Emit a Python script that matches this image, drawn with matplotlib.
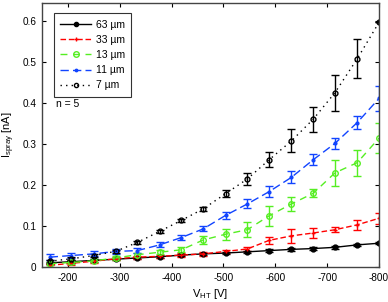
import matplotlib
matplotlib.use("Agg")
import matplotlib.pyplot as plt
from matplotlib.ticker import FixedLocator, FuncFormatter
from matplotlib.lines import Line2D

plt.rcParams['font.family'] = ['Liberation Sans', 'DejaVu Sans']
plt.rcParams['axes.unicode_minus'] = False

voltage = [-165, -207, -250, -292, -334, -377, -419, -461, -504, -546, -588, -631, -673, -715, -758, -800]

i_63 = [0.010, 0.013, 0.016, 0.019, 0.022, 0.025, 0.029, 0.032, 0.034, 0.037, 0.040, 0.043, 0.045, 0.048, 0.054, 0.058]
e_63 = [0.003, 0.003, 0.003, 0.003, 0.003, 0.003, 0.003, 0.003, 0.003, 0.003, 0.003, 0.003, 0.003, 0.003, 0.003, 0.003]

i_33 = [0.004, 0.009, 0.014, 0.020, 0.024, 0.026, 0.029, 0.032, 0.038, 0.044, 0.065, 0.076, 0.083, 0.091, 0.103, 0.119]
e_33 = [0.004, 0.004, 0.004, 0.004, 0.004, 0.004, 0.004, 0.004, 0.004, 0.006, 0.009, 0.017, 0.012, 0.006, 0.012, 0.014]

i_13 = [0.008, 0.011, 0.015, 0.022, 0.030, 0.036, 0.042, 0.066, 0.080, 0.091, 0.125, 0.154, 0.180, 0.230, 0.255, 0.315]
e_13 = [0.004, 0.004, 0.004, 0.005, 0.005, 0.005, 0.006, 0.010, 0.013, 0.018, 0.024, 0.017, 0.010, 0.032, 0.032, 0.037]

i_11 = [0.024, 0.028, 0.032, 0.038, 0.040, 0.054, 0.072, 0.093, 0.126, 0.154, 0.184, 0.219, 0.262, 0.302, 0.353, 0.412]
e_11 = [0.007, 0.007, 0.006, 0.006, 0.006, 0.006, 0.006, 0.006, 0.009, 0.011, 0.013, 0.015, 0.014, 0.014, 0.017, 0.030]

i_7 = [0.014, 0.020, 0.028, 0.038, 0.060, 0.087, 0.114, 0.142, 0.179, 0.215, 0.262, 0.308, 0.361, 0.426, 0.509, 0.598]
e_7 = [0.004, 0.004, 0.004, 0.004, 0.004, 0.004, 0.004, 0.005, 0.008, 0.014, 0.018, 0.028, 0.030, 0.044, 0.048, 0.0]

labels = ['63 µm', '33 µm', '13 µm', '11 µm', '7 µm']
x_ticks = [-200, -300, -400, -500, -600, -700, -800]
y_ticks = [0, 0.1, 0.2, 0.3, 0.4, 0.5, 0.6]

fig = plt.figure(figsize=(3.88, 3.02), dpi=100)
ax = fig.add_axes([0.108, 0.116, 0.869, 0.874])

styles = [
    (i_63, e_63, 'black', '-', 'o', 3.5, 'black', 3.0),
    (i_33, e_33, '#ff0000', (0, (4, 2)), '+', 3.5, '#ff0000', 3.0),
    (i_13, e_13, '#55ee22', (0, (5, 4)), 'o', 4, 'none', 4.0),
    (i_11, e_11, '#1144ff', (0, (6, 3)), '.', 4, '#1144ff', 3.5),
    (i_7, e_7, 'black', (0, (1, 3)), 'o', 3.5, 'none', 3.0),
]

handles = []
for (vals, errs, col, ls, mk, ms, mfc, lms), lab in zip(styles, labels):
    ax.errorbar(voltage, vals, yerr=errs, color=col, ecolor=col, linestyle=ls,
                linewidth=1.0, marker=mk, markersize=ms, markerfacecolor=mfc,
                markeredgecolor=col, markeredgewidth=1.0, capsize=3, capthick=1.0,
                elinewidth=1.0)
    handles.append(Line2D([], [], color=col, linestyle=ls, linewidth=1.0, marker=mk,
                          markersize=lms, markerfacecolor=mfc, markeredgecolor=col,
                          markeredgewidth=1.0, label=lab))

ax.set_xlim(-150, -800)
ax.set_ylim(0, 0.645)
ax.xaxis.set_major_locator(FixedLocator(x_ticks))
ax.yaxis.set_major_locator(FixedLocator(y_ticks))
ax.xaxis.set_major_formatter(FuncFormatter(lambda v, p: '-%d' % abs(v)))
ax.yaxis.set_major_formatter(FuncFormatter(lambda v, p: '0' if v == 0 else ('%.1f' % v)))
ax.tick_params(direction='in', top=True, right=True, labelsize=7.2, length=3, width=0.8, colors='black', pad=4)
for s in ax.spines.values():
    s.set_linewidth(1.0)
    s.set_color('#444444')

ax.set_xlabel('V$_{\\mathregular{HT}}$ [V]', fontsize=8, labelpad=3)
ax.set_ylabel('I$_{\\mathregular{spray}}$ [nA]', fontsize=8, labelpad=4)

leg = ax.legend(handles=handles, loc='upper left', bbox_to_anchor=(0.0356, 0.961), fontsize=7.5,
                frameon=True, fancybox=False, edgecolor='black', handlelength=3.0,
                handletextpad=0.45, borderpad=0.6, labelspacing=0.5, borderaxespad=0)
leg.get_frame().set_linewidth(0.8)

ax.text(0.043, 0.617, 'n = 5', transform=ax.transAxes, fontsize=7.5, va='center', ha='left')

fig.savefig('out.png', dpi=100)
